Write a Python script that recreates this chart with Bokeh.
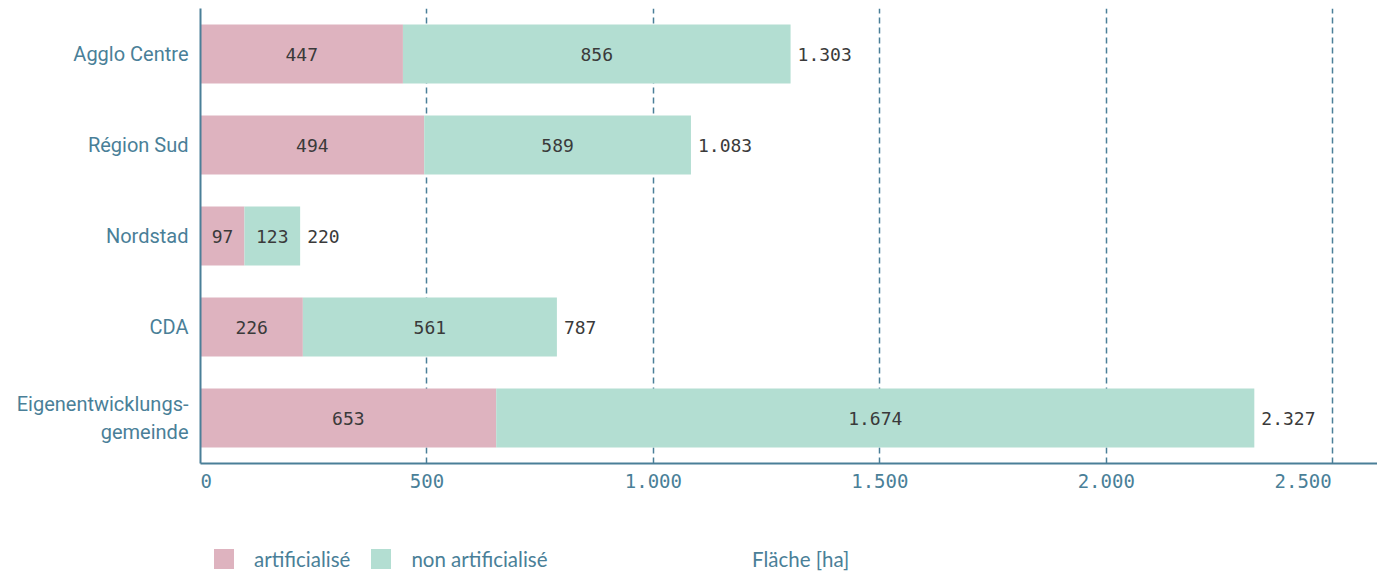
from bokeh.plotting import figure
from bokeh.layouts import column
from bokeh.models import FactorRange, Range1d, FixedTicker, Legend, LegendItem, ColumnDataSource
from bokeh.core.properties import value
from bokeh.embed import file_html
from bokeh.resources import INLINE

categories = ["Agglo Centre", "Région Sud", "Nordstad", "CDA", "Eigenentwicklungs-\ngemeinde"]
artificialise = [447, 494, 97, 226, 653]
non_artificialise = [856, 589, 123, 561, 1674]
series_names = ["artificialisé", "non artificialisé"]
x_ticks = [0, 500, 1000, 1500, 2000, 2500]
x_title = "Fläche [ha]"

def fmt(v):
    return f"{v:,}".replace(",", ".")

totals = [a + b for a, b in zip(artificialise, non_artificialise)]

AX = "#4a7f98"
PINK = "#deb3bf"
GREEN = "#b3ded2"
W = 1377

p = figure(width=W, height=503, output_backend="svg", toolbar_location=None,
           y_range=FactorRange(factors=list(reversed(categories)), range_padding=0),
           x_range=Range1d(0, 2599),
           min_border_left=200, min_border_right=0, min_border_top=8, min_border_bottom=40)
p.outline_line_color = None

src = ColumnDataSource(dict(cat=categories, a=artificialise, b=non_artificialise,
                            a_mid=[v / 2 for v in artificialise],
                            b_mid=[a + b / 2 for a, b in zip(artificialise, non_artificialise)],
                            tot=totals,
                            a_lbl=[fmt(v) for v in artificialise],
                            b_lbl=[fmt(v) for v in non_artificialise],
                            t_lbl=[fmt(v) for v in totals],
                            zero=[0] * len(categories)))

r1 = p.hbar(y="cat", left="zero", right="a", height=0.65, source=src,
            fill_color=PINK, line_color=None)
r2 = p.hbar(y="cat", left="a", right="tot", height=0.65, source=src,
            fill_color=GREEN, line_color=None)

for xcol, lcol, align, off in [("a_mid", "a_lbl", "center", 0), ("b_mid", "b_lbl", "center", 0),
                               ("tot", "t_lbl", "left", 7)]:
    p.text(x=xcol, y="cat", text=lcol, source=src, text_align=align, text_baseline="middle",
           x_offset=off, text_font=value("DejaVu Sans Mono"), text_font_size="18px",
           text_color="#3a3a3a")

# grid
p.xgrid.ticker = FixedTicker(ticks=x_ticks)
p.xgrid.grid_line_color = AX
p.xgrid.grid_line_dash = "6 4"
p.xgrid.grid_line_width = 1.5
p.ygrid.grid_line_color = None

# x axis
p.xaxis.ticker = FixedTicker(ticks=x_ticks)
overrides = {t: fmt(t) for t in x_ticks}
overrides[0] = "\u00a00"
overrides[2500] = fmt(2500) + "\u00a0" * 4
p.xaxis.major_label_overrides = overrides
p.xaxis.axis_line_color = AX
p.xaxis.axis_line_width = 2
p.xaxis.major_tick_line_color = None
p.xaxis.minor_tick_line_color = None
p.xaxis.major_label_text_font = "DejaVu Sans Mono"
p.xaxis.major_label_text_font_size = "19px"
p.xaxis.major_label_text_color = AX
p.xaxis.major_label_standoff = 0

# y axis
p.yaxis.axis_line_color = AX
p.yaxis.axis_line_width = 2
p.yaxis.major_tick_line_color = None
p.yaxis.minor_tick_line_color = None
p.yaxis.major_label_text_font = "Roboto"
p.yaxis.major_label_text_font_size = "20px"
p.yaxis.major_label_text_color = AX
p.yaxis.major_label_standoff = 6

# legend strip (separate small figure below the chart); its swatch glyphs lie outside its view
p2 = figure(width=W, height=68, output_backend="svg", toolbar_location=None,
            x_range=Range1d(0, 1), y_range=Range1d(0, 1),
            x_axis_location=None, y_axis_location=None,
            min_border_left=0, min_border_right=0, min_border_top=0, min_border_bottom=0)
p2.outline_line_color = None
p2.grid.visible = False
hidden = dict(left=[5], right=[6], bottom=[5], top=[6])
l1 = p2.quad(**hidden, fill_color=PINK, line_color=None)
l2 = p2.quad(**hidden, fill_color=GREEN, line_color=None)
l3 = p2.quad(**hidden, fill_alpha=0, line_alpha=0)

legend = Legend(items=[LegendItem(label=series_names[0], renderers=[l1]),
                       LegendItem(label=series_names[1], renderers=[l2])],
                orientation="horizontal", location=(11, 0),
                glyph_width=25, glyph_height=25, label_standoff=18, spacing=18,
                padding=0, margin=0, border_line_color=None, background_fill_alpha=0,
                label_text_font="Lato", label_text_font_size="20.5px", label_text_color=AX)
p2.add_layout(legend, "center")

legend2 = Legend(items=[LegendItem(label=x_title, renderers=[l3])],
                 orientation="horizontal", location=(552, 0),
                 glyph_width=0, glyph_height=21, label_standoff=0, spacing=0,
                 padding=0, margin=0, border_line_color=None, background_fill_alpha=0,
                 label_text_font="Lato", label_text_font_size="20.5px", label_text_color=AX)
p2.add_layout(legend2, "center")

layout = column(p, p2, spacing=0)
open("out.html", "w").write(file_html(layout, INLINE))
